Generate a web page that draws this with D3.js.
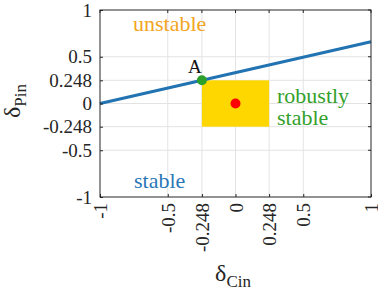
<!DOCTYPE html>
<html>
<head>
<meta charset="utf-8">
<script src="https://cdn.jsdelivr.net/npm/d3@7"></script>
<style>
body { margin: 0; background: #fff; }
</style>
</head>
<body>
<div id="chart"></div>
<script>
// data
var tickVals = [-1, -0.5, -0.248, 0, 0.248, 0.5, 1];
var tickLabels = ["-1", "-0.5", "-0.248", "0", "0.248", "0.5", "1"];
var gridVals = [-0.5, -0.248, 0, 0.248, 0.5];
var boundaryX = [-1, 1];
var boundaryY = [0, 0.66];
var robustRegion = [-0.248, 0.248, -0.248, 0.248]; // x0, x1, y0, y1
var center = [0, 0];
var pointA = [-0.248, 0.248];

var FONT = '"Liberation Serif", Tinos, "Times New Roman", FreeSerif';
var width = 378, height = 292;
var margin = { left: 100, right: 7, top: 10, bottom: 95 };

var svg = d3.select("#chart").append("svg")
            .attr("width", width)
            .attr("height", height);

var x = d3.scaleLinear().domain([-1, 1]).range([margin.left, width - margin.right]);
var y = d3.scaleLinear().domain([-1, 1]).range([height - margin.bottom, margin.top]);

// grid
svg.append("g").selectAll("line").data(gridVals).enter().append("line")
   .attr("x1", d => x(d)).attr("x2", d => x(d))
   .attr("y1", y(-1)).attr("y2", y(1))
   .attr("stroke", "#e3e3e3").attr("stroke-width", 1);
svg.append("g").selectAll("line").data(gridVals).enter().append("line")
   .attr("y1", d => y(d)).attr("y2", d => y(d))
   .attr("x1", x(-1)).attr("x2", x(1))
   .attr("stroke", "#e3e3e3").attr("stroke-width", 1);

// robust region
svg.append("rect")
   .attr("x", x(robustRegion[0]))
   .attr("y", y(robustRegion[3]))
   .attr("width", x(robustRegion[1]) - x(robustRegion[0]))
   .attr("height", y(robustRegion[2]) - y(robustRegion[3]))
   .attr("fill", "#ffd700");

// boundary line
svg.append("line")
   .attr("x1", x(boundaryX[0])).attr("y1", y(boundaryY[0]))
   .attr("x2", x(boundaryX[1])).attr("y2", y(boundaryY[1]))
   .attr("stroke", "#2273b2").attr("stroke-width", 3);

svg.append("circle").attr("cx", x(center[0])).attr("cy", y(center[1]))
   .attr("r", 5).attr("fill", "#ff0000");
svg.append("circle").attr("cx", x(pointA[0])).attr("cy", y(pointA[1]))
   .attr("r", 5).attr("fill", "#2ca02c");

// axes
var xAxis = d3.axisBottom(x).tickValues(tickVals)
              .tickFormat((d, i) => tickLabels[i]).tickSizeInner(-3).tickSizeOuter(0);
var yAxis = d3.axisLeft(y).tickValues(tickVals)
              .tickFormat((d, i) => tickLabels[i]).tickSizeInner(-3).tickSizeOuter(0);

var gx = svg.append("g").attr("transform", "translate(0," + y(-1) + ")").call(xAxis);
gx.selectAll("text")
  .attr("transform", "rotate(-90)")
  .attr("x", -6).attr("y", 0).attr("dy", "0.35em")
  .style("text-anchor", "end");
var gy = svg.append("g").attr("transform", "translate(" + x(-1) + ",0)").call(yAxis);
gy.selectAll("text").attr("x", -8);

svg.selectAll(".tick text").attr("font-size", 19).attr("fill", "#262626");
svg.selectAll(".tick line").attr("stroke", "#262626");
svg.selectAll(".domain").remove();

// top/right ticks
svg.append("g").selectAll("line").data(tickVals).enter().append("line")
   .attr("x1", d => x(d)).attr("x2", d => x(d))
   .attr("y1", y(1)).attr("y2", y(1) + 3).attr("stroke", "#262626");
svg.append("g").selectAll("line").data(tickVals).enter().append("line")
   .attr("y1", d => y(d)).attr("y2", d => y(d))
   .attr("x1", x(1)).attr("x2", x(1) - 3).attr("stroke", "#262626");

// box
svg.append("rect")
   .attr("x", x(-1)).attr("y", y(1))
   .attr("width", x(1) - x(-1)).attr("height", y(-1) - y(1))
   .attr("fill", "none").attr("stroke", "#262626").attr("stroke-width", 1);

// annotations
svg.append("text").attr("x", 133).attr("y", 31).text("unstable")
   .attr("font-size", 22).attr("fill", "#f2a522");
svg.append("text").attr("x", 134).attr("y", 188).text("stable")
   .attr("font-size", 22).attr("fill", "#2a77b6");
svg.append("text").attr("x", 277).attr("y", 103).text("robustly")
   .attr("font-size", 22).attr("fill", "#33a02c");
svg.append("text").attr("x", 277).attr("y", 125).text("stable")
   .attr("font-size", 22).attr("fill", "#33a02c");
svg.append("text").attr("x", 188).attr("y", 73).text("A")
   .attr("font-size", 19).attr("fill", "#111");

// axis labels
var yl = svg.append("text")
   .attr("transform", "translate(20,101) rotate(-90)")
   .attr("text-anchor", "middle").attr("fill", "#262626");
yl.append("tspan").attr("font-size", 24).text("δ");
yl.append("tspan").attr("font-size", 17).attr("dy", 6).text("Pin");

var xl = svg.append("text")
   .attr("transform", "translate(233,281)")
   .attr("text-anchor", "middle").attr("fill", "#262626");
xl.append("tspan").attr("font-size", 24).text("δ");
xl.append("tspan").attr("font-size", 17).attr("dy", 6).text("Cin");

svg.selectAll("g").attr("font-family", null);
svg.selectAll("text").style("font-family", FONT);
</script>
</body>
</html>
